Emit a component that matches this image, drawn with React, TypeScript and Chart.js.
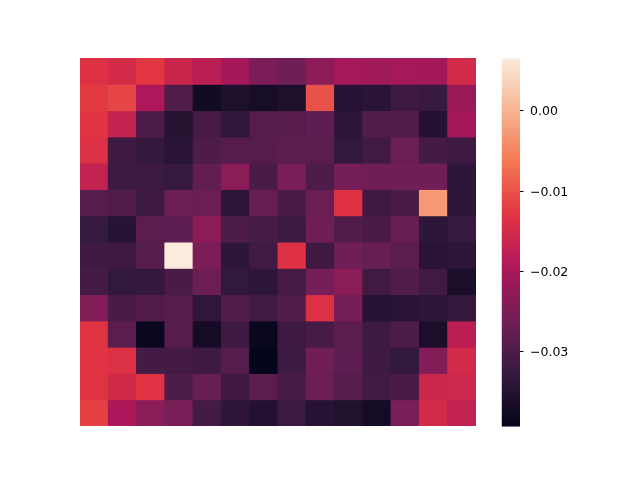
import { useEffect, useRef } from 'react';
import { Chart, registerables } from 'chart.js';

Chart.register(...registerables);

// Heatmap values (rows top to bottom, columns left to right)
const COLUMNS = ['0', '1', '2', '3', '4', '5', '6', '7', '8', '9', '10', '11', '12', '13'];
const ROW_LABELS = ['0', '1', '2', '3', '4', '5', '6', '7', '8', '9', '10', '11', '12', '13'];

const ROW_0 = [-0.0135, -0.0149, -0.0128, -0.0163, -0.0181, -0.0207, -0.0249, -0.0264, -0.0232, -0.0205, -0.0211, -0.0205, -0.0208, -0.0151];
const ROW_1 = [-0.0125, -0.0112, -0.0196, -0.0296, -0.0374, -0.0358, -0.0366, -0.0358, -0.0101, -0.0348, -0.0343, -0.0318, -0.0325, -0.0217];
const ROW_2 = [-0.0130, -0.0169, -0.0300, -0.0349, -0.0309, -0.0336, -0.0291, -0.0290, -0.0282, -0.0337, -0.0296, -0.0296, -0.0351, -0.0207];
const ROW_3 = [-0.0137, -0.0318, -0.0329, -0.0343, -0.0300, -0.0291, -0.0291, -0.0286, -0.0286, -0.0332, -0.0315, -0.0269, -0.0311, -0.0318];
const ROW_4 = [-0.0169, -0.0320, -0.0320, -0.0327, -0.0278, -0.0234, -0.0304, -0.0252, -0.0300, -0.0256, -0.0264, -0.0264, -0.0264, -0.0337];
const ROW_5 = [-0.0291, -0.0296, -0.0318, -0.0269, -0.0269, -0.0337, -0.0273, -0.0304, -0.0269, -0.0135, -0.0318, -0.0304, -0.0028, -0.0337];
const ROW_6 = [-0.0327, -0.0346, -0.0286, -0.0282, -0.0232, -0.0300, -0.0309, -0.0320, -0.0264, -0.0296, -0.0304, -0.0273, -0.0337, -0.0327];
const ROW_7 = [-0.0318, -0.0318, -0.0291, 0.0065, -0.0249, -0.0337, -0.0315, -0.0135, -0.0318, -0.0264, -0.0273, -0.0286, -0.0343, -0.0340];
const ROW_8 = [-0.0311, -0.0332, -0.0329, -0.0304, -0.0269, -0.0332, -0.0337, -0.0309, -0.0256, -0.0234, -0.0315, -0.0296, -0.0315, -0.0363];
const ROW_9 = [-0.0243, -0.0306, -0.0296, -0.0291, -0.0335, -0.0296, -0.0315, -0.0298, -0.0137, -0.0256, -0.0348, -0.0343, -0.0337, -0.0329];
const ROW_10 = [-0.0132, -0.0286, -0.0384, -0.0291, -0.0369, -0.0318, -0.0384, -0.0318, -0.0309, -0.0286, -0.0320, -0.0300, -0.0363, -0.0181];
const ROW_11 = [-0.0132, -0.0138, -0.0311, -0.0311, -0.0318, -0.0291, -0.0393, -0.0320, -0.0264, -0.0282, -0.0318, -0.0332, -0.0243, -0.0150];
const ROW_12 = [-0.0132, -0.0152, -0.0134, -0.0300, -0.0273, -0.0318, -0.0286, -0.0309, -0.0269, -0.0291, -0.0315, -0.0304, -0.0160, -0.0158];
const ROW_13 = [-0.0118, -0.0197, -0.0234, -0.0252, -0.0311, -0.0337, -0.0353, -0.0322, -0.0348, -0.0355, -0.0371, -0.0252, -0.0150, -0.0172];

const ROWS = [ROW_0, ROW_1, ROW_2, ROW_3, ROW_4, ROW_5, ROW_6, ROW_7, ROW_8, ROW_9, ROW_10, ROW_11, ROW_12, ROW_13];

// Colour bar range and ticks
const VMIN = -0.03934;
const VMAX = 0.00653;
const CBAR_TICKS = [0, -0.01, -0.02, -0.03];

// "rocket" colormap anchors
const ANCHORS: [number, string][] = [
  [0, '#03051a'],
  [1 / 7, '#35193e'],
  [2 / 7, '#701f57'],
  [3 / 7, '#ad1759'],
  [4 / 7, '#e13342'],
  [5 / 7, '#f37651'],
  [6 / 7, '#f6b48f'],
  [1, '#faebdd'],
];

function hexToRgb(h: string) {
  const n = parseInt(h.slice(1), 16);
  return [(n >> 16) & 255, (n >> 8) & 255, n & 255];
}

function valueToColor(v: number) {
  let t = (v - VMIN) / (VMAX - VMIN);
  t = Math.max(0, Math.min(1, t));
  for (let i = 0; i < ANCHORS.length - 1; i++) {
    const [t0, c0] = ANCHORS[i];
    const [t1, c1] = ANCHORS[i + 1];
    if (t <= t1) {
      const f = (t - t0) / (t1 - t0);
      const a = hexToRgb(c0);
      const b = hexToRgb(c1);
      const r = a.map((x, k) => Math.round(x + (b[k] - x) * f));
      return `rgb(${r[0]},${r[1]},${r[2]})`;
    }
  }
  return ANCHORS[ANCHORS.length - 1][1];
}

function formatTick(v: number) {
  return Number(v).toFixed(2).replace('-', '\u2212');
}

export default function App() {
  const heatRef = useRef<HTMLCanvasElement>(null);
  const barRef = useRef<HTMLCanvasElement>(null);

  useEffect(() => {
    const heat = new Chart(heatRef.current as HTMLCanvasElement, {
      type: 'bar',
      data: {
        labels: COLUMNS,
        datasets: ROWS.map((row, i) => ({
          label: ROW_LABELS[i],
          data: row.map(() => 1),
          backgroundColor: row.map(valueToColor),
          borderWidth: 0,
          barPercentage: 1,
          categoryPercentage: 1,
          inflateAmount: 0.5,
        })),
      },
      options: {
        animation: false,
        responsive: false,
        layout: { padding: { left: 80, right: 164, top: 58, bottom: 54 } },
        plugins: { legend: { display: false }, tooltip: { enabled: false } },
        scales: {
          x: { display: false, stacked: true },
          y: { display: false, stacked: true, reverse: true, min: 0, max: 14 },
        },
      },
    } as any);

    const cbar = new Chart(barRef.current as HTMLCanvasElement, {
      type: 'bar',
      data: {
        labels: ['colorbar'],
        datasets: [
          {
            data: [[VMIN, VMAX]],
            backgroundColor: (ctx: any) => {
              const chart = ctx.chart;
              if (!chart.chartArea) return 'transparent';
              const y = chart.scales.y;
              const g = chart.ctx.createLinearGradient(0, y.getPixelForValue(VMIN), 0, y.getPixelForValue(VMAX));
              ANCHORS.forEach(([t, c]) => g.addColorStop(t, c));
              return g;
            },
            borderWidth: 0,
            barPercentage: 1,
            categoryPercentage: 1,
            inflateAmount: 0,
          },
        ],
      },
      options: {
        animation: false,
        responsive: false,
        layout: { padding: { left: 501.5, right: 60, top: 58.3, bottom: 53.3 } },
        plugins: { legend: { display: false }, tooltip: { enabled: false } },
        scales: {
          x: { display: false },
          y: {
            position: 'right',
            min: VMIN,
            max: VMAX,
            afterFit: (s: any) => {
              s.width = 60;
            },
            afterBuildTicks: (s: any) => {
              s.ticks = CBAR_TICKS.map((v) => ({ value: v }));
            },
            border: { display: false },
            grid: {
              drawOnChartArea: false,
              drawTicks: true,
              tickLength: 3.5,
              tickColor: '#000',
              lineWidth: 1,
            },
            ticks: {
              padding: 6.5,
              labelOffset: 1.5,
              color: '#000',
              font: { family: 'DejaVu Sans', size: 12.5 },
              callback: (v: any) => formatTick(v),
            },
          },
        },
      },
    } as any);

    return () => {
      heat.destroy();
      cbar.destroy();
    };
  }, []);

  return (
    <div style={{ position: 'fixed', left: 0, top: 0, width: 640, height: 480, background: '#fff' }}>
      <canvas ref={heatRef} width={640} height={480} style={{ position: 'absolute', left: 0, top: 0 }} />
      <canvas ref={barRef} width={640} height={480} style={{ position: 'absolute', left: 0, top: 0 }} />
    </div>
  );
}
